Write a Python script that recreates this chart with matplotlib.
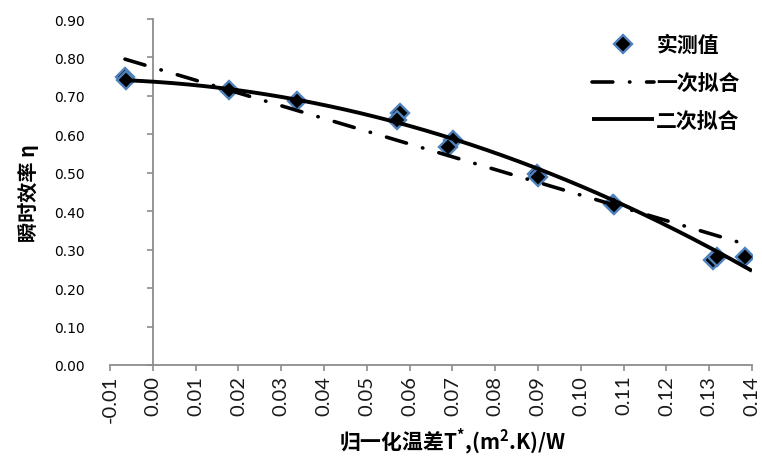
import matplotlib
matplotlib.use("Agg")
import matplotlib.pyplot as plt
import numpy as np

# measured data (normalized temperature difference vs instantaneous efficiency)
x_meas = [-0.0065, -0.0063, 0.0178, 0.0337, 0.0578, 0.0570, 0.0701, 0.0690,
          0.0898, 0.0900, 0.1075, 0.1078, 0.1309, 0.1318, 0.1384]
y_meas = [0.750, 0.742, 0.716, 0.686, 0.656, 0.637, 0.585, 0.568,
          0.497, 0.490, 0.419, 0.415, 0.273, 0.280, 0.282]

# trendline coefficients (highest power first)
lin_coef = [-3.32, 0.774]
quad_coef = [-19.96, -0.721, 0.737]
fit_range = [-0.0065, 0.14]

x_ticks = [-0.01, 0.00, 0.01, 0.02, 0.03, 0.04, 0.05, 0.06, 0.07, 0.08,
           0.09, 0.10, 0.11, 0.12, 0.13, 0.14]
y_ticks = [0.00, 0.10, 0.20, 0.30, 0.40, 0.50, 0.60, 0.70, 0.80, 0.90]

labels = ["实测值", "一次拟合", "二次拟合"]
xlabel = "归一化温差T$^{*}$,(m$^{2}$.K)/W"
ylabel = "瞬时效率 η"

cjk = ["Noto Sans CJK SC", "DejaVu Sans"]
num = ["Lato", "DejaVu Sans"]
plt.rcParams['lines.scale_dashes'] = False
plt.rcParams['mathtext.fontset'] = 'custom'
plt.rcParams['mathtext.rm'] = 'Noto Sans CJK SC:bold'
plt.rcParams['mathtext.it'] = 'Noto Sans CJK SC:bold'

fig = plt.figure(figsize=(7.62, 4.60), dpi=100)
ax = fig.add_axes([110/762, 94/460, 642/762, 346/460])

xf = np.linspace(fit_range[0], fit_range[1], 200)
ax.plot(x_meas, y_meas, linestyle='none', marker='D', markersize=9.5,
        markerfacecolor='black', markeredgecolor='#4F81BD', markeredgewidth=1.7,
        label=labels[0], zorder=2)
ax.plot(xf, np.polyval(lin_coef, xf), color='black', lw=2.6,
        dashes=(15, 12, 0.3, 12), dash_capstyle='round',
        label=labels[1], zorder=3)
ax.plot(xf, np.polyval(quad_coef, xf), color='black', lw=2.8,
        solid_capstyle='butt', label=labels[2], zorder=3)

ax.set_xlim(-0.01, 0.14)
ax.set_ylim(0, 0.90)
ax.set_xticks(x_ticks)
ax.set_yticks(y_ticks)
ax.set_xticklabels([f"{v:.2f}" for v in x_ticks], rotation=90, family=num,
                   fontsize=14.5, color='#1a1a1a')
ax.set_yticklabels([f"{v:.2f}" for v in y_ticks], family=num,
                   fontsize=14.5, color='#1a1a1a')

for s in ['top', 'right']:
    ax.spines[s].set_visible(False)
ax.spines['left'].set_position(('data', 0))
for s in ['left', 'bottom']:
    ax.spines[s].set_color('#8c8c8c')
    ax.spines[s].set_linewidth(1.3)
ax.tick_params(axis='y', direction='out', length=4, width=1.2, color='#8c8c8c', pad=45)
ax.tick_params(axis='x', direction='out', length=4, width=1.2, color='#8c8c8c', pad=3)

ax.set_xlabel(xlabel, family=cjk, fontsize=15, fontweight='bold')
ax.xaxis.set_label_coords(0.534, -0.175)
ax.set_ylabel(ylabel, family=cjk, fontsize=14.5, fontweight='bold')
ax.yaxis.set_label_coords(-0.11, 0.5)

leg = ax.legend(loc='upper right', bbox_to_anchor=(1.01, 1.01), frameon=False,
                prop={'family': cjk, 'size': 15, 'weight': 'bold'},
                labelspacing=0.8, handlelength=3.0, handletextpad=0.1)

fig.savefig("out.png", dpi=100)
